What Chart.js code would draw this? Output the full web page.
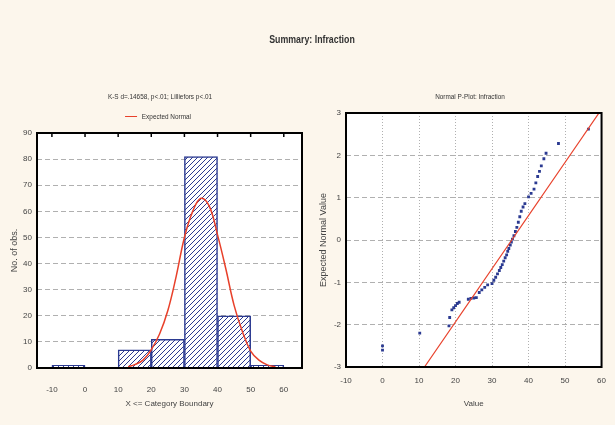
<!DOCTYPE html>
<html>
<head>
<meta charset="utf-8">
<script src="https://cdn.jsdelivr.net/npm/chart.js@4"></script>
<style>
  body { margin: 0; background: #fcf6ec; }
  #page { position: relative; width: 615px; height: 425px; background: #fcf6ec; overflow: hidden;
          font-family: "Liberation Sans Narrow", "Liberation Sans", sans-serif; color: #333; }
  canvas { position: absolute; top: 0; }
  .txt { position: absolute; white-space: nowrap; transform: translateX(-50%) scaleX(0.8); }
</style>
</head>
<body>
<div id="page">
  <canvas id="hist" width="310" height="425" style="left:0"></canvas>
  <canvas id="pplot" width="305" height="425" style="left:310px"></canvas>
  <div class="txt" style="left:312px; top:33px; font-size:11px; font-weight:bold;">Summary: Infraction</div>
  <div class="txt" style="left:160px; top:92px; font-size:8px;">K-S d=.14658, p&lt;.01; Lilliefors p&lt;.01</div>
  <div class="txt" style="left:158px; top:112px; font-size:8px;"><span style="display:inline-block;width:15px;height:0;border-top:1.5px solid #e8402a;vertical-align:middle;margin-right:6px"></span>Expected Normal</div>
  <div class="txt" style="left:470px; top:92px; font-size:8px;">Normal P-Plot: Infraction</div>
</div>
<script>
// histogram: bins of width 10, values at bin centres
const binCenters = [-5, 5, 15, 25, 35, 45, 55];
const binCounts = [1, 0, 7, 11, 81, 20, 1];
const histXTicks = [-10, 0, 10, 20, 30, 40, 50, 60];

// expected normal curve
const curveX = [13, 15, 17.5, 20, 22.5, 25, 27.5, 30, 32.5, 35, 37.5, 40, 42.5, 45, 47.5, 50, 52.5, 55, 57.5];
const curveY = [0.5, 1.3, 3, 7, 13, 22, 35, 50, 60, 65, 62, 51, 38, 24, 14, 6.5, 3, 1.2, 0.4];

// normal probability plot
const qqX = [0, 0, 10.2, 18.2, 18.4, 19, 19.5, 20, 20.5, 21, 23.5, 24.2, 25, 25.7, 26.5, 27.2, 28, 28.8,
  30, 30.5, 31, 31.5, 32, 32.4, 32.8, 33.2, 33.6, 34, 34.3, 34.6, 35, 35.3, 35.6, 36, 36.4, 36.8, 37.2,
  37.6, 38, 38.5, 39, 40, 40.7, 41.5, 42, 42.5, 43, 43.5, 44.2, 44.8, 48.2, 56.4];
const qqY = [-2.6, -2.5, -2.2, -2.03, -1.83, -1.65, -1.6, -1.55, -1.5, -1.47, -1.4, -1.38, -1.37, -1.36, -1.24, -1.18, -1.12, -1.06,
  -1.03, -0.95, -0.88, -0.8, -0.72, -0.65, -0.58, -0.5, -0.42, -0.35, -0.27, -0.2, -0.12, -0.05, 0.02, 0.1, 0.2, 0.3, 0.42,
  0.55, 0.68, 0.78, 0.86, 1.02, 1.1, 1.2, 1.35, 1.5, 1.62, 1.75, 1.92, 2.05, 2.28, 2.62];
const refLineX = [11.5, 59.3];
const refLineY = [-3, 3];
const ppXTicks = [-10, 0, 10, 20, 30, 40, 50, 60];

const NAVY = '#2b3a91';
const RED = '#e8402a';
const TXT = '#444';
const fnt = { family: '"Liberation Sans Narrow", "Liberation Sans", sans-serif', size: 8 };

// diagonal hatch for the bars
function hatch() {
  const c = document.createElement('canvas');
  c.width = 5; c.height = 5;
  const g = c.getContext('2d');
  g.fillStyle = '#fff';
  g.fillRect(0, 0, 5, 5);
  g.strokeStyle = NAVY;
  g.lineWidth = 1;
  g.beginPath();
  g.moveTo(-1, 6); g.lineTo(6, -1);
  g.moveTo(-1, 1); g.lineTo(1, -1);
  g.moveTo(4, 6); g.lineTo(6, 4);
  g.stroke();
  return g.createPattern(c, 'repeat');
}

// thick frame round the plot area, plus little ticks on the top edge
const frame = {
  id: 'frame',
  afterDraw(chart, args, opts) {
    const { ctx, chartArea: a } = chart;
    ctx.save();
    ctx.strokeStyle = '#000';
    ctx.lineWidth = 2;
    ctx.strokeRect(a.left, a.top, a.right - a.left, a.bottom - a.top);
    if (opts.topTicks) {
      ctx.lineWidth = 1.5;
      chart.scales.x.ticks.forEach(t => {
        const px = chart.scales.x.getPixelForValue(t.value);
        ctx.beginPath(); ctx.moveTo(px, a.top); ctx.lineTo(px, a.top + 4); ctx.stroke();
      });
    }
    ctx.restore();
  }
};

const pageBg = {
  id: 'pageBg',
  beforeDraw(chart) {
    const { ctx, chartArea: a } = chart;
    ctx.save();
    ctx.fillStyle = '#fff';
    ctx.fillRect(a.left, a.top, a.right - a.left, a.bottom - a.top);
    ctx.restore();
  }
};

new Chart(document.getElementById('hist'), {
  type: 'bar',
  data: {
    datasets: [{
      type: 'line',
      label: 'Expected Normal',
      data: curveX.map((x, i) => ({ x, y: curveY[i] })),
      borderColor: RED,
      borderWidth: 1.5,
      pointRadius: 0,
      tension: 0.4,
      order: 0
    }, {
      label: 'No. of obs.',
      data: binCenters.map((x, i) => ({ x, y: binCounts[i] })),
      backgroundColor: hatch(),
      borderColor: NAVY,
      borderWidth: 1.5,
      barPercentage: 1,
      categoryPercentage: 1,
      order: 1
    }]
  },
  options: {
    responsive: false,
    animation: false,
    layout: { padding: { left: 0, right: 8, top: 133, bottom: 12 }, autoPadding: false },
    plugins: { legend: { display: false }, tooltip: { enabled: false }, frame: { topTicks: true } },
    scales: {
      x: {
        type: 'linear', min: -14.5, max: 65.5, offset: false,
        afterBuildTicks: s => { s.ticks = histXTicks.map(v => ({ value: v })); },
        afterFit: s => { s.height = 45; },
        grid: { display: false, offset: false },
        border: { display: false },
        ticks: { color: TXT, font: fnt, padding: 9, maxRotation: 0 },
        title: { display: true, text: 'X <= Category Boundary', color: TXT, font: fnt, padding: { top: 6 } }
      },
      y: {
        min: 0, max: 90,
        afterFit: s => { s.width = 37; },
        grid: { color: '#b0b0b0', drawTicks: false, lineWidth: 1 },
        border: { display: false, dash: [5, 3] },
        ticks: { stepSize: 10, color: TXT, font: fnt, padding: 5 },
        title: { display: true, text: 'No. of obs.', color: TXT, font: { ...fnt, size: 9 }, padding: { top: 9, bottom: 0 } }
      }
    }
  },
  plugins: [pageBg, frame]
});

new Chart(document.getElementById('pplot'), {
  type: 'scatter',
  data: {
    datasets: [{
      type: 'line',
      data: refLineX.map((x, i) => ({ x, y: refLineY[i] })),
      borderColor: RED,
      borderWidth: 1.2,
      pointRadius: 0,
      order: 0
    }, {
      data: qqX.map((x, i) => ({ x, y: qqY[i] })),
      backgroundColor: NAVY,
      borderColor: NAVY,
      pointStyle: 'rect',
      pointRadius: 2,
      borderWidth: 0,
      order: 1
    }]
  },
  options: {
    responsive: false,
    animation: false,
    layout: { padding: { left: 0, right: 0, top: 113, bottom: 12 }, autoPadding: false },
    plugins: { legend: { display: false }, tooltip: { enabled: false }, frame: { topTicks: false } },
    scales: {
      x: {
        type: 'linear', min: -10, max: 60,
        afterBuildTicks: s => { s.ticks = ppXTicks.map(v => ({ value: v })); },
        afterFit: s => { s.height = 46; },
        grid: { color: '#b0b0b0', drawTicks: false },
        border: { display: false, dash: [1, 2] },
        ticks: { color: TXT, font: fnt, padding: 9, maxRotation: 0 },
        title: { display: true, text: 'Value', color: TXT, font: fnt, padding: { top: 6 } }
      },
      y: {
        min: -3, max: 3,
        afterFit: s => { s.width = 36; },
        grid: { color: '#b0b0b0', drawTicks: false },
        border: { display: false, dash: [5, 3] },
        ticks: { stepSize: 1, color: TXT, font: fnt, padding: 5 },
        title: { display: true, text: 'Expected Normal Value', color: TXT, font: { ...fnt, size: 9 }, padding: { top: 8, bottom: 0 } }
      }
    }
  },
  plugins: [pageBg, frame]
});
</script>
</body>
</html>
